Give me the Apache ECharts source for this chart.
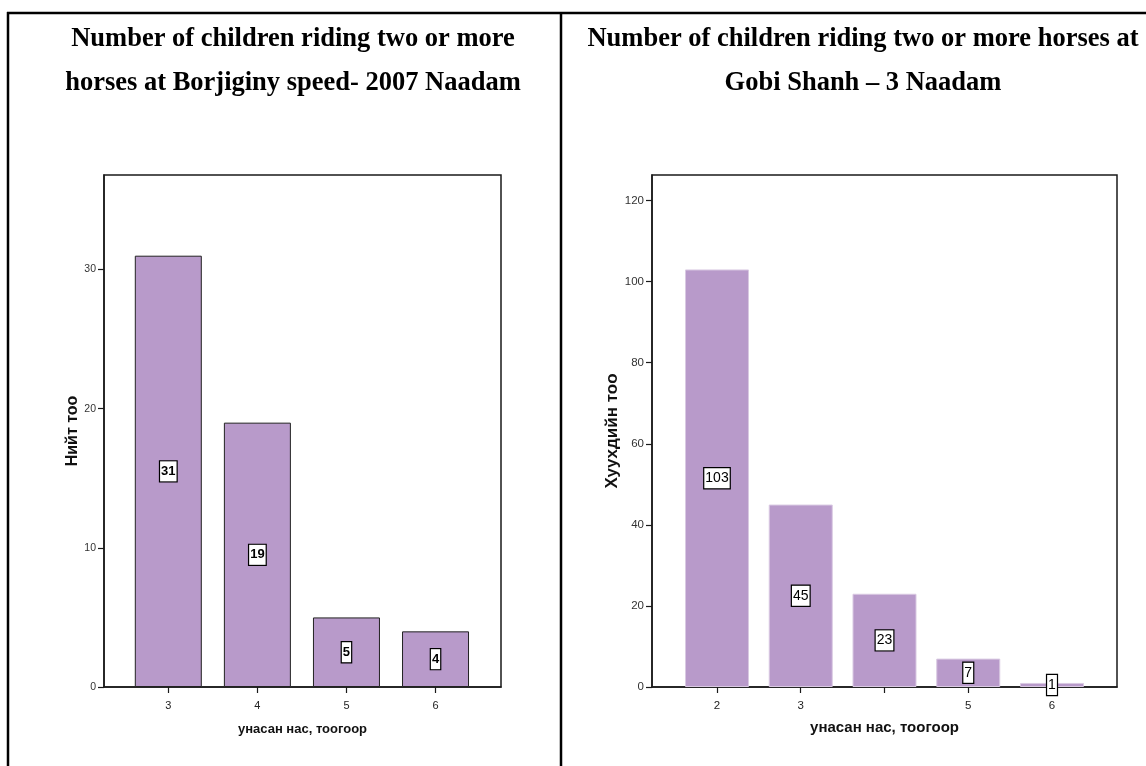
<!DOCTYPE html>
<html>
<head>
<meta charset="utf-8">
<script src="https://cdn.jsdelivr.net/npm/echarts@6/dist/echarts.min.js"></script>
<style>
  html, body { margin: 0; padding: 0; background: #fff; }
  #chart { width: 1146px; height: 766px; }
</style>
</head>
<body>
<div id="chart"></div>
<script>
// Borjiginy speed – 2007 Naadam
const leftAges = [3, 4, 5, 6];
const leftTickLabels = ['3', '4', '5', '6'];
const leftCounts = [31, 19, 5, 4];
const leftYTicks = [0, 10, 20, 30];

// Gobi Shanh – 3 Naadam
const rightAges = [2, 3, 4, 5, 6];
const rightTickLabels = ['2', '3', '', '5', '6'];
const rightCounts = [103, 45, 23, 7, 1];
const rightYTicks = [0, 20, 40, 60, 80, 100, 120];

const leftTitle = 'Number of children riding two or more\nhorses at Borjiginy speed- 2007 Naadam';
const rightTitle = 'Number of children riding two or more horses at\nGobi Shanh \u2013 3 Naadam';
const xName = 'унасан нас, тоогоор';
const leftYName = 'Нийт тоо';
const rightYName = 'Хуухдийн тоо';

const barColor = '#b89aca';
const sans = '"Liberation Sans", Arial, sans-serif';
const narrow = '"Liberation Sans Narrow", "Liberation Sans", Arial, sans-serif';
const serif = '"Liberation Serif", "Times New Roman", serif';

function pairs(xs, ys) { return xs.map((x, i) => [x, ys[i]]); }

function xAxisFor(grid, ticks, labels, min, max, fontFamily, fontSize, nameSize, nameGap) {
  return {
    type: 'value', gridIndex: grid, min: min, max: max,
    name: xName, nameLocation: 'middle', nameGap: nameGap,
    nameTextStyle: { fontFamily: sans, fontWeight: 'bold', fontSize: nameSize, color: '#111' },
    axisLine: { show: true, onZero: false, lineStyle: { color: '#1a1a1a', width: 1.5 } },
    axisTick: { show: true, length: 6, customValues: ticks, lineStyle: { color: '#1a1a1a', width: 1.2 } },
    axisLabel: {
      customValues: ticks, margin: 13, fontFamily: fontFamily, fontSize: fontSize, color: '#222',
      formatter: v => labels[ticks.indexOf(v)] ?? ''
    },
    splitLine: { show: false }
  };
}

function yAxisFor(grid, ticks, max, name, nameSize, nameGap, fontFamily, fontSize) {
  return {
    type: 'value', gridIndex: grid, min: 0, max: max,
    name: name, nameLocation: 'middle', nameGap: nameGap, nameRotate: 90,
    nameTextStyle: { fontFamily: sans, fontWeight: 'bold', fontSize: nameSize, color: '#111' },
    axisLine: { show: true, lineStyle: { color: '#1a1a1a', width: 1.5 } },
    axisTick: { show: true, length: 6, customValues: ticks, lineStyle: { color: '#1a1a1a', width: 1.2 } },
    axisLabel: { customValues: ticks, margin: 8, fontFamily: fontFamily, fontSize: fontSize, color: '#333' },
    splitLine: { show: false }
  };
}

const chart = echarts.init(document.getElementById('chart'), null, { renderer: 'canvas' });

chart.setOption({
  animation: false,
  backgroundColor: '#fff',
  title: [
    {
      text: leftTitle, left: 288, top: 12, textAlign: 'center',
      textStyle: { fontFamily: serif, fontWeight: 'bold', fontSize: 26.5, lineHeight: 44, color: '#000' }
    },
    {
      text: rightTitle, left: 858, top: 12, textAlign: 'center',
      textStyle: { fontFamily: serif, fontWeight: 'bold', fontSize: 26.5, lineHeight: 44, color: '#000' }
    }
  ],
  grid: [
    { left: 104, top: 175, width: 397, height: 512, show: true, borderColor: '#1a1a1a', borderWidth: 1.5, backgroundColor: 'transparent' },
    { left: 652, top: 175, width: 465, height: 512, show: true, borderColor: '#1a1a1a', borderWidth: 1.5, backgroundColor: 'transparent' }
  ],
  xAxis: [
    xAxisFor(0, leftAges, leftTickLabels, 2.278, 6.735, narrow, 11, 13, 36),
    xAxisFor(1, rightAges, rightTickLabels, 1.224, 6.776, sans, 11.5, 15, 33)
  ],
  yAxis: [
    yAxisFor(0, leftYTicks, 36.8, leftYName, 16, 22, narrow, 10.5),
    yAxisFor(1, rightYTicks, 126.3, rightYName, 17, 30, sans, 11.5)
  ],
  series: [
    {
      type: 'bar', xAxisIndex: 0, yAxisIndex: 0,
      data: pairs(leftAges, leftCounts), barWidth: 67,
      itemStyle: { color: barColor, borderColor: '#222', borderWidth: 1 },
      label: {
        show: true, position: 'inside', formatter: p => p.value[1],
        fontFamily: sans, fontWeight: 'bold', fontSize: 13, color: '#000',
        backgroundColor: '#fff', borderColor: '#000', borderWidth: 1.2, padding: [4, 1, 3, 1]
      }
    },
    {
      type: 'bar', xAxisIndex: 1, yAxisIndex: 1,
      data: pairs(rightAges, rightCounts), barWidth: 64,
      itemStyle: { color: barColor, borderColor: '#d9c9e2', borderWidth: 1 },
      label: {
        show: true, position: 'inside', formatter: p => p.value[1],
        fontFamily: sans, fontSize: 14, color: '#000',
        backgroundColor: '#fff', borderColor: '#000', borderWidth: 1.2, padding: [3, 1, 3, 1]
      }
    }
  ],
  graphic: [
    // table rules around the two panels
    { type: 'line', shape: { x1: 7, y1: 13, x2: 1146, y2: 13 }, style: { stroke: '#000', lineWidth: 2.5 } },
    { type: 'line', shape: { x1: 8, y1: 12, x2: 8, y2: 766 }, style: { stroke: '#000', lineWidth: 2.5 } },
    { type: 'line', shape: { x1: 561, y1: 12, x2: 561, y2: 766 }, style: { stroke: '#000', lineWidth: 2.5 } }
  ]
});
</script>
</body>
</html>
